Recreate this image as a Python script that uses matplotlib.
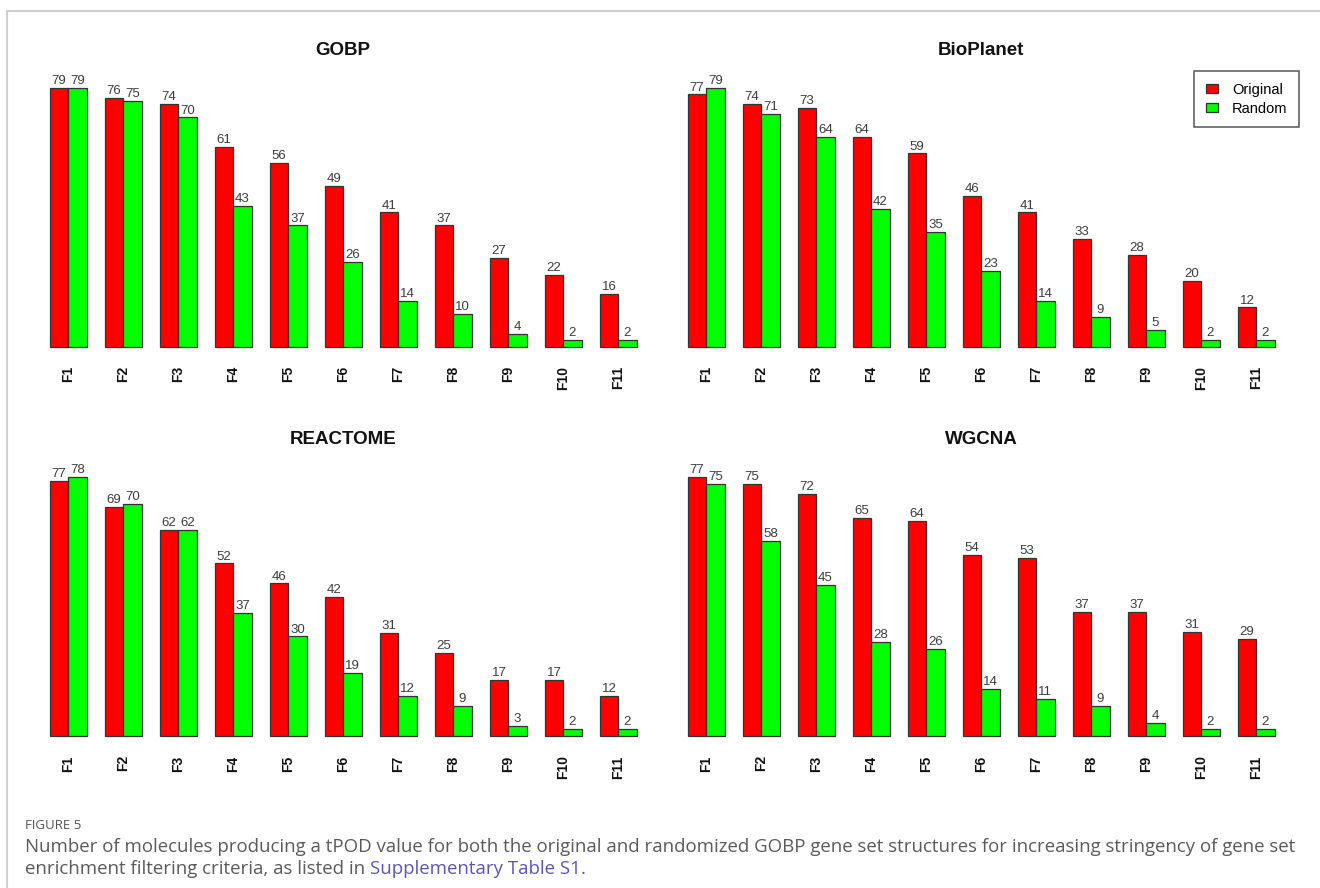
"""
plot.py — tPOD counts, original vs randomised gene set structures
=================================================================
Four grouped bar panels (GOBP / BioPlanet / REACTOME / WGCNA) for the
F1..F11 filtering levels, plus the figure caption underneath.

Output: out.png (1320 x 888 px)
"""
from __future__ import annotations

import matplotlib
matplotlib.use('Agg')
import matplotlib.pyplot as plt
import matplotlib.patches as mpatches
from matplotlib.lines import Line2D

FILTERS = ['F1', 'F2', 'F3', 'F4', 'F5', 'F6', 'F7', 'F8', 'F9', 'F10', 'F11']

GOBP_ORIG = [79, 76, 74, 61, 56, 49, 41, 37, 27, 22, 16]
GOBP_RAND = [79, 75, 70, 43, 37, 26, 14, 10, 4, 2, 2]
BIOPLANET_ORIG = [77, 74, 73, 64, 59, 46, 41, 33, 28, 20, 12]
BIOPLANET_RAND = [79, 71, 64, 42, 35, 23, 14, 9, 5, 2, 2]
REACTOME_ORIG = [77, 69, 62, 52, 46, 42, 31, 25, 17, 17, 12]
REACTOME_RAND = [78, 70, 62, 37, 30, 19, 12, 9, 3, 2, 2]
WGCNA_ORIG = [77, 75, 72, 65, 64, 54, 53, 37, 37, 31, 29]
WGCNA_RAND = [75, 58, 45, 28, 26, 14, 11, 9, 4, 2, 2]

SERIES_NAMES = ['Original', 'Random']
PANEL_TITLES = ['GOBP', 'BioPlanet', 'REACTOME', 'WGCNA']

RED = '#FF0000'
GREEN = '#00FF00'
EDGE = '#333333'
FONT = ['Liberation Sans', 'DejaVu Sans']
CAP_FONT = ['Open Sans', 'DejaVu Sans']
CAP_SIZE = 13.4

W, H = 1320, 888
# plot regions in pixels: (left, top, right, bottom)
REGIONS = [
    (26.5, 77.6, 660.0, 357.0),
    (664.5, 77.6, 1298.0, 357.0),
    (26.5, 466.9, 660.0, 746.3),
    (664.5, 466.9, 1298.0, 746.3),
]


def px_axes(fig, left, top, right, bottom):
    return fig.add_axes([left / W, 1 - bottom / H, (right - left) / W, (bottom - top) / H])


def draw_panel(ax, title, orig, rand):
    """R-style beside=TRUE barplot: width 1, space c(0, 1)."""
    n = len(orig)
    lefts_red = [1 + 3 * i for i in range(n)]
    lefts_green = [2 + 3 * i for i in range(n)]
    ax.bar(lefts_red, orig, width=1, align='edge', color=RED,
           edgecolor=EDGE, linewidth=0.9, zorder=2)
    ax.bar(lefts_green, rand, width=1, align='edge', color=GREEN,
           edgecolor=EDGE, linewidth=0.9, zorder=2)

    for xs, vals in ((lefts_red, orig), (lefts_green, rand)):
        for x, v in zip(xs, vals):
            ax.annotate(str(v), (x + 0.5, v), xytext=(0, 0.6), textcoords='offset points',
                        ha='center', va='bottom', fontsize=9.5, color='#3c3c3c',
                        family=FONT)

    top = max(max(orig), max(rand))
    ax.set_xlim(1 - 0.04 * 32, 33 + 0.04 * 32)
    ax.set_ylim(-0.04 * top, 1.04 * top)

    ax.set_xticks([2 + 3 * i for i in range(n)])
    ax.set_xticklabels(FILTERS, rotation=90, fontsize=10, fontweight='bold',
                       family=FONT, color='#111111')
    ax.tick_params(axis='x', length=0, pad=6.5)
    ax.set_yticks([])
    for spine in ax.spines.values():
        spine.set_visible(False)
    ax.patch.set_alpha(0)

    ax.annotate(title, (0.5, 1), xycoords='axes fraction', xytext=(0, 19.5),
                textcoords='offset points', ha='center', va='center',
                fontsize=13.5, fontweight='bold', family=FONT, color='#111111')


def main() -> None:
    fig = plt.figure(figsize=(W / 100, H / 100), dpi=100)
    fig.patch.set_facecolor('white')

    # thin page frame along the top and left
    fig.add_artist(Line2D([7 / W, 1], [1 - 11 / H] * 2, color='#cfcfcf', lw=1.5))
    fig.add_artist(Line2D([7 / W] * 2, [0, 1 - 11 / H], color='#cfcfcf', lw=1.5))

    panels = [
        (GOBP_ORIG, GOBP_RAND),
        (BIOPLANET_ORIG, BIOPLANET_RAND),
        (REACTOME_ORIG, REACTOME_RAND),
        (WGCNA_ORIG, WGCNA_RAND),
    ]
    for region, title, (orig, rand) in zip(REGIONS, PANEL_TITLES, panels):
        ax = px_axes(fig, *region)
        draw_panel(ax, title, orig, rand)

    handles = [
        mpatches.Patch(facecolor=RED, edgecolor=EDGE, linewidth=0.9, label=SERIES_NAMES[0]),
        mpatches.Patch(facecolor=GREEN, edgecolor=EDGE, linewidth=0.9, label=SERIES_NAMES[1]),
    ]
    leg = fig.legend(handles=handles, loc='upper right',
                     bbox_to_anchor=(1299 / W, 1 - 71 / H),
                     prop={'family': FONT, 'size': 10.5},
                     fancybox=False, framealpha=1, edgecolor='#555555',
                     handlelength=0.85, handleheight=0.55, handletextpad=0.95,
                     labelspacing=0.35, borderpad=0.8, borderaxespad=0)
    leg.get_frame().set_linewidth(1.1)

    # caption
    fig.text(25 / W, 1 - 825 / H, 'FIGURE 5', ha='left', va='center',
             fontsize=9.5, color='#555555', family=CAP_FONT)
    fig.text(25 / W, 1 - 847 / H,
             'Number of molecules producing a tPOD value for both the original and '
             'randomized GOBP gene set structures for increasing stringency of gene set',
             ha='left', va='center', fontsize=CAP_SIZE, color='#5a5a5a', family=CAP_FONT)
    line2 = fig.text(25 / W, 1 - 869 / H, 'enrichment filtering criteria, as listed in ',
                     ha='left', va='center', fontsize=CAP_SIZE, color='#5a5a5a',
                     family=CAP_FONT)
    fig.canvas.draw()
    bb = line2.get_window_extent()
    link = fig.text(bb.x1 / W, 1 - 869 / H, 'Supplementary Table S1',
                    ha='left', va='center', fontsize=CAP_SIZE, color='#5b55b8',
                    family=CAP_FONT)
    fig.canvas.draw()
    bb = link.get_window_extent()
    fig.text(bb.x1 / W, 1 - 869 / H, '.', ha='left', va='center',
             fontsize=CAP_SIZE, color='#5a5a5a', family=CAP_FONT)

    fig.savefig('out.png', dpi=100, facecolor='white')
    plt.close(fig)


if __name__ == "__main__":
    main()
